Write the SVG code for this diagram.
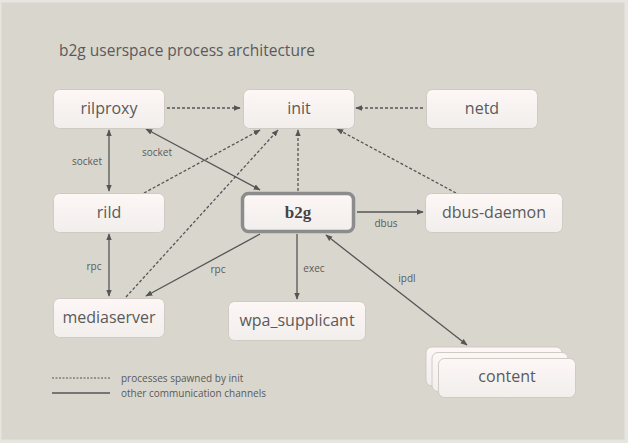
<svg xmlns="http://www.w3.org/2000/svg" width="628" height="443" viewBox="0 0 628 443">
<defs>
<linearGradient id="nodeFill" x1="0" y1="0" x2="0" y2="1">
<stop offset="0" stop-color="#fdf7f6"/>
<stop offset="1" stop-color="#f1eeec"/>
</linearGradient>
<marker id="ah" viewBox="0 0 10 10" refX="9" refY="5" markerWidth="7" markerHeight="7" orient="auto-start-reverse" markerUnits="userSpaceOnUse">
<path d="M0,1 L10,5 L0,9 Z" fill="#555"/>
</marker>
</defs>
<style>
.node rect{fill:url(#nodeFill);stroke:#cfcac4;stroke-width:1}
.node text{font-family:"Open Sans","DejaVu Sans",sans-serif;font-size:16px;fill:#5a5a5a;text-anchor:middle;dominant-baseline:central}
.b2g rect{stroke:#8c8c8c;stroke-width:3.5}
.b2g text{font-weight:bold;fill:#444;font-family:"Liberation Serif","DejaVu Serif",serif;font-size:17px}
.back{fill:#fbf1ef;stroke:#f7f2f0;stroke-width:1}
.c line{stroke:#555;stroke-width:1.3;fill:none}
.c .d{stroke-dasharray:3,2}
.lbl{font-family:"Open Sans","DejaVu Sans",sans-serif;font-size:10px;fill:#5a5a5a;text-anchor:middle;dominant-baseline:central}
</style>
<rect x="0" y="0" width="628" height="443" fill="#e7e5df"/>
<rect x="1.5" y="2.5" width="623" height="437" fill="#d9d6ce"/>
<text x="59" y="50" font-family="'Open Sans','DejaVu Sans',sans-serif" font-size="15.5" fill="#5a5a5a" dominant-baseline="central">b2g userspace process architecture</text>

<g class="c">
<line class="d" x1="167" y1="108" x2="240" y2="108" marker-end="url(#ah)"/>
<line class="d" x1="423" y1="108" x2="356" y2="108" marker-end="url(#ah)"/>
<line class="d" x1="144" y1="193" x2="260" y2="130" marker-end="url(#ah)"/>
<line class="d" x1="126" y1="297" x2="278" y2="130" marker-end="url(#ah)"/>
<line class="d" x1="298" y1="191" x2="298" y2="130" marker-end="url(#ah)"/>
<line class="d" x1="456" y1="193" x2="337" y2="129" marker-end="url(#ah)"/>
<line x1="109" y1="130" x2="109" y2="191" marker-start="url(#ah)" marker-end="url(#ah)"/>
<line x1="146" y1="129" x2="260" y2="190" marker-start="url(#ah)" marker-end="url(#ah)"/>
<line x1="357" y1="212" x2="423" y2="212" marker-end="url(#ah)"/>
<line x1="109" y1="234" x2="109" y2="296" marker-start="url(#ah)" marker-end="url(#ah)"/>
<line x1="260" y1="234" x2="146" y2="296" marker-end="url(#ah)"/>
<line x1="297" y1="234" x2="297" y2="299" marker-end="url(#ah)"/>
<line x1="326" y1="235" x2="467" y2="345" marker-start="url(#ah)" marker-end="url(#ah)"/>
<line x1="52" y1="378" x2="110" y2="378" class="d" style="stroke-dasharray:2,1.5;stroke-width:1"/>
<line x1="52" y1="393" x2="110" y2="393" style="stroke-width:1.5"/>
</g>

<g id="lbls">
<text class="lbl" x="87" y="161">socket</text>
<text class="lbl" x="157" y="152">socket</text>
<text class="lbl" x="386" y="223">dbus</text>
<text class="lbl" x="94" y="266">rpc</text>
<text class="lbl" x="218" y="269">rpc</text>
<text class="lbl" x="314" y="268">exec</text>
<text class="lbl" x="407" y="278">ipdl</text>
<text class="lbl" x="121" y="378" style="text-anchor:start">processes spawned by init</text>
<text class="lbl" x="121" y="393" style="text-anchor:start">other communication channels</text>
</g>

<g id="rilproxy" class="node"><rect x="53.5" y="89.5" width="111" height="39" rx="6"/><text x="109" y="108">rilproxy</text></g>
<g id="init" class="node"><rect x="243.5" y="89.5" width="111" height="39" rx="6"/><text x="299" y="108">init</text></g>
<g id="netd" class="node"><rect x="426.5" y="89.5" width="111" height="39" rx="6"/><text x="482" y="108">netd</text></g>
<g id="rild" class="node"><rect x="53.5" y="193.5" width="111" height="39" rx="6"/><text x="109" y="212">rild</text></g>
<g id="b2g" class="node b2g"><rect x="242.5" y="193.5" width="111" height="38" rx="6"/><text x="298" y="212">b2g</text></g>
<g id="dbus-daemon" class="node"><rect x="425.5" y="193.5" width="137" height="39" rx="6"/><text x="494" y="212">dbus-daemon</text></g>
<g id="mediaserver" class="node"><rect x="53.5" y="298.5" width="111" height="39" rx="6"/><text x="109" y="317">mediaserver</text></g>
<g id="wpa_supplicant" class="node"><rect x="228.5" y="301.5" width="137" height="39" rx="6"/><text x="297" y="320">wpa_supplicant</text></g>
<g id="content" class="node">
<rect class="back" x="426" y="347" width="136" height="39" rx="6"/>
<rect class="back" x="432" y="352.5" width="136" height="39" rx="6"/>
<rect x="438.5" y="358.5" width="137" height="39" rx="6"/>
<text x="507" y="376">content</text>
</g>
</svg>
